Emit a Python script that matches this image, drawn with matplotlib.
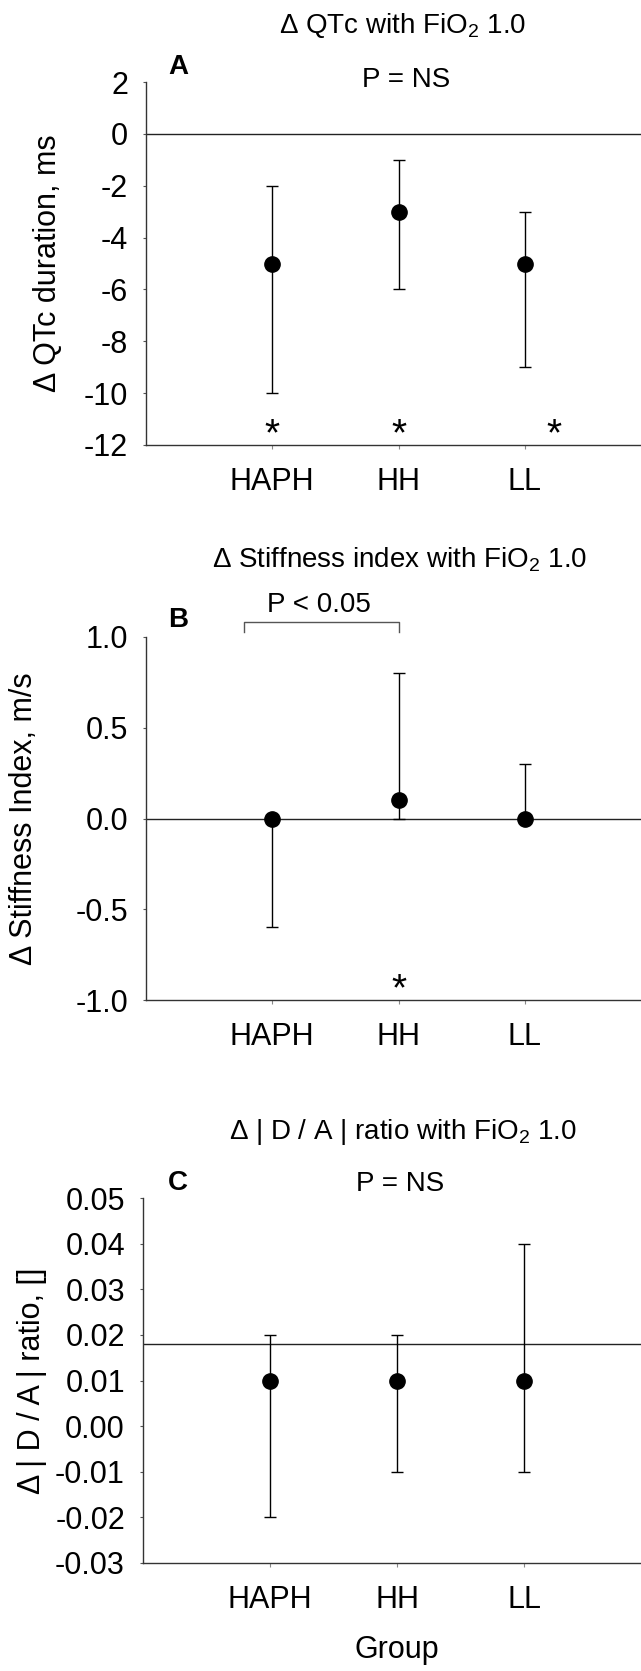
import matplotlib
matplotlib.use('Agg')
import matplotlib.pyplot as plt
from matplotlib.ticker import FormatStrFormatter

# data
groups = ['HAPH', 'HH', 'LL']

qtc_mean = [-5, -3, -5]
qtc_low = [-10, -6, -9]
qtc_high = [-2, -1, -3]

stiff_mean = [0.0, 0.1, 0.0]
stiff_low = [-0.6, 0.0, 0.0]
stiff_high = [0.0, 0.8, 0.3]

da_mean = [0.01, 0.01, 0.01]
da_low = [-0.02, -0.01, -0.01]
da_high = [0.02, 0.02, 0.04]

plt.rcParams['font.family'] = ['Liberation Sans', 'DejaVu Sans']
plt.rcParams['mathtext.fontset'] = 'custom'
plt.rcParams['mathtext.rm'] = 'Liberation Sans'
plt.rcParams['axes.unicode_minus'] = False

W, H = 641, 1671
fig = plt.figure(figsize=(W / 100, H / 100), dpi=100)


def px_axes(left, top, bottom):
    return fig.add_axes([left / W, 1 - bottom / H, 1 - left / W, (bottom - top) / H])


def ftext(x, y, s, **kw):
    fig.text(x / W, 1 - y / H, s, ha='center', va='center', **kw)


def panel(ax, mean, low, high, ylim, yticks, fmt, ylabel, label_x, ref=None):
    x = [1, 2, 3]
    yerr = [[m - l for m, l in zip(mean, low)], [h - m for m, h in zip(mean, high)]]
    ax.errorbar(x, mean, yerr=yerr, fmt='o', color='black', markersize=11,
                elinewidth=1.0, capsize=4, capthick=1.0, zorder=3)
    if ref is not None:
        ax.axhline(ref, color='#222222', lw=1.0, zorder=2)
    ax.set_xlim(0, 3.92)
    ax.set_ylim(*ylim)
    ax.set_yticks(yticks)
    if fmt:
        ax.yaxis.set_major_formatter(FormatStrFormatter(fmt))
    ax.set_xticks(x)
    ax.set_xticklabels(groups)
    for s in ['top', 'right']:
        ax.spines[s].set_visible(False)
    for s in ['left', 'bottom']:
        ax.spines[s].set_linewidth(1.0)
        ax.spines[s].set_color('#333333')
    ax.tick_params(axis='y', labelsize=22, length=2, pad=11, color='#555555')
    ax.tick_params(axis='x', labelsize=22, length=3, pad=13, color='#888888')
    ax.set_ylabel(ylabel, fontsize=22)
    ax.yaxis.set_label_coords(label_x, 0.5)


# panel A
axA = px_axes(146, 82, 445)
panel(axA, qtc_mean, qtc_low, qtc_high, (-12, 2), range(-12, 3, 2), None,
      '\u0394 QTc duration, ms', -0.168, ref=0)
for xs in [1, 2, 3.23]:
    axA.text(xs, -12, '*', ha='center', va='baseline', fontsize=28)
ftext(403, 25, '\u0394 QTc with FiO$_2$ 1.0', fontsize=20)
ftext(178, 67, 'A', fontsize=20, fontweight='bold')
ftext(406, 80, 'P = NS', fontsize=20)

# panel B
axB = px_axes(146, 637, 1000)
panel(axB, stiff_mean, stiff_low, stiff_high, (-1, 1), [-1, -0.5, 0, 0.5, 1], '%.1f',
      '\u0394 Stiffness Index, m/s', -0.216, ref=0)
axB.text(2, -1, '*', ha='center', va='baseline', fontsize=28)
axB.plot([0.78, 0.78, 2, 2], [1.03, 1.08, 1.08, 1.03], color='#555555', lw=1.0, clip_on=False)
ftext(400, 560, '\u0394 Stiffness index with FiO$_2$ 1.0', fontsize=20)
ftext(178, 620, 'B', fontsize=20, fontweight='bold')
ftext(319, 605, 'P < 0.05', fontsize=20)

# panel C
axC = px_axes(143, 1198, 1563)
panel(axC, da_mean, da_low, da_high, (-0.03, 0.05),
      [-0.03, -0.02, -0.01, 0, 0.01, 0.02, 0.03, 0.04, 0.05], '%.2f',
      '\u0394 | D / A | ratio, []', -0.193, ref=0.018)
ftext(403, 1132, '\u0394 | D / A | ratio with FiO$_2$ 1.0', fontsize=20)
ftext(178, 1183, 'C', fontsize=20, fontweight='bold')
ftext(400, 1184, 'P = NS', fontsize=20)
ftext(397, 1650, 'Group', fontsize=22)

fig.savefig('out.png', dpi=100)
